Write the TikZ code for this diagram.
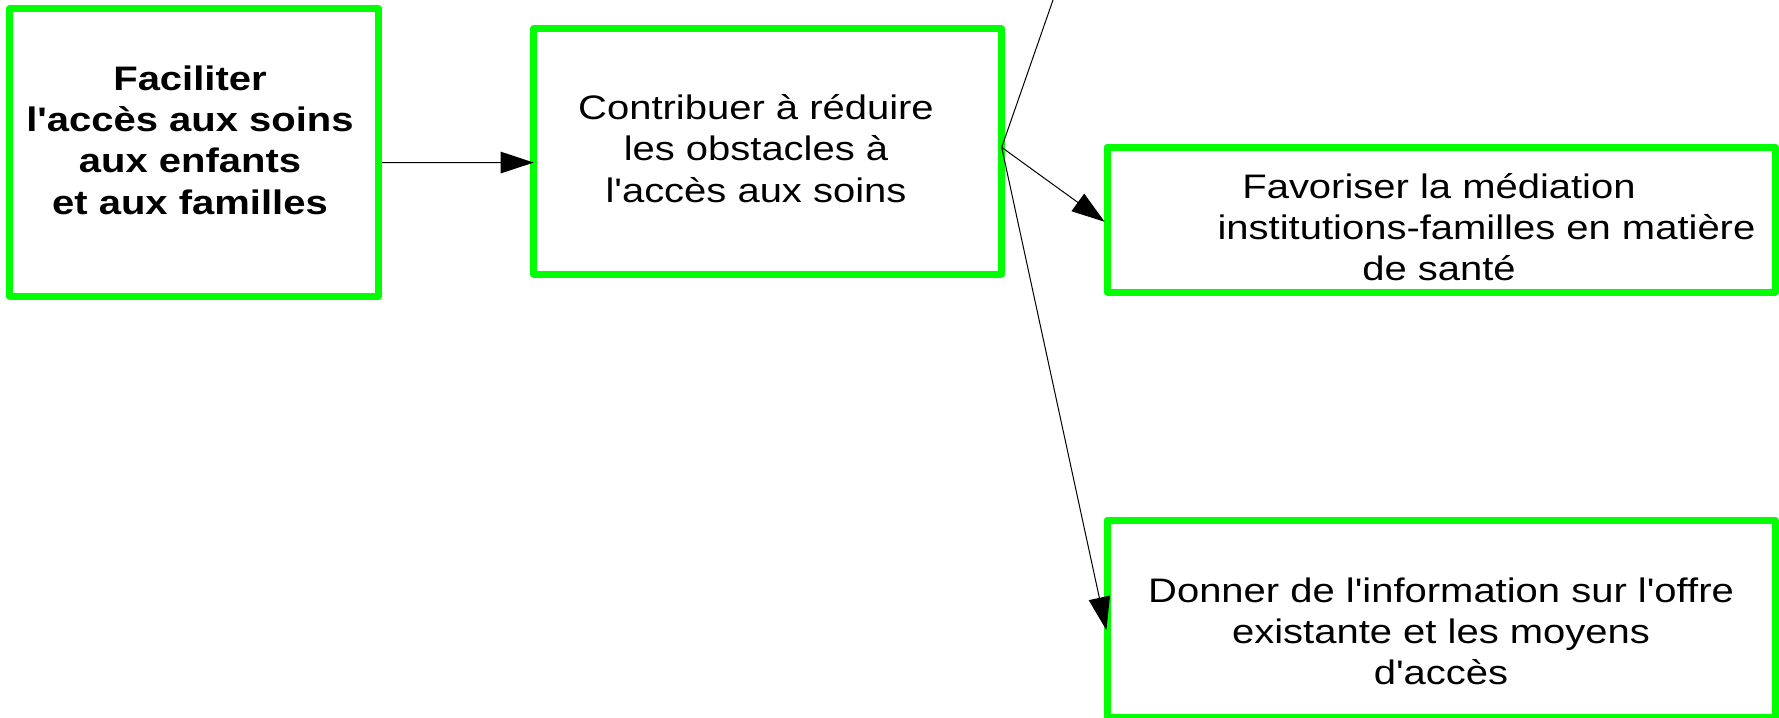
\documentclass[tikz,border=0pt]{standalone}
\usepackage{fontspec}
\setmainfont{Liberation Sans}[FakeStretch=1.176, Ligatures=TeXOff]
\usepackage{tikz}
\usetikzlibrary{positioning, arrows.meta}

\begin{document}
\begin{tikzpicture}[x=0.5pt, y=-0.5pt,
  box/.style={draw=green, line width=3.5pt, line join=round, outer sep=0pt, inner sep=0pt},
  txt/.style={align=center, inner sep=0pt, font=\fontsize{17}{20.65}\selectfont},
  link/.style={line width=0.5pt, -{Triangle[length=16.5pt, width=10.75pt]}}]
\useasboundingbox (0,0) rectangle (1779,718);

% --- Boxes ---
\node[box, minimum width=184.15pt, minimum height=143.75pt] (fac) at (193.85,152.55) {};
\node[box, minimum width=234pt, minimum height=122.65pt] (obst) at (767.7,151.35) {};
\node[box, minimum width=334pt, minimum height=72.5pt] (medi) at (1441,219.5) {};
\node[box, minimum width=334pt, minimum height=98.35pt] (info) at (1441,618.65) {};

% --- Texts ---
\node[txt, font=\fontsize{17}{20.65}\selectfont\bfseries] (facT) at (190,140)
  {Faciliter\\l'accès aux soins\\aux enfants\\et aux familles};
\node[txt] (obstT) at (756,148.5) {Contribuer à réduire\\les obstacles à\\l'accès aux soins};
\node[txt] (mediT) at (1439,227)
  {Favoriser la médiation\\\hspace*{47.5pt}institutions-familles en matière\\de santé};
\node[txt] (infoT) at (1441,631.5)
  {Donner de l'information sur l'offre\\existante et les moyens\\d'accès};

% --- Links ---
\coordinate (fan) at ([yshift=2pt]obst.east);
\coordinate (up) at (1053,0);
\draw[link, shorten <=2pt] ([yshift=-5pt]fac.east) -- ([yshift=-5.6pt]obst.west);
\draw[line width=0.5pt] (fan) -- (up);
\draw[link, shorten >=1.5pt] (fan) -- ([yshift=-2pt]medi.west);
\draw[link, shorten >=1.5pt] (fan) -- ([yshift=-7.2pt]info.west);
\end{tikzpicture}
\end{document}
